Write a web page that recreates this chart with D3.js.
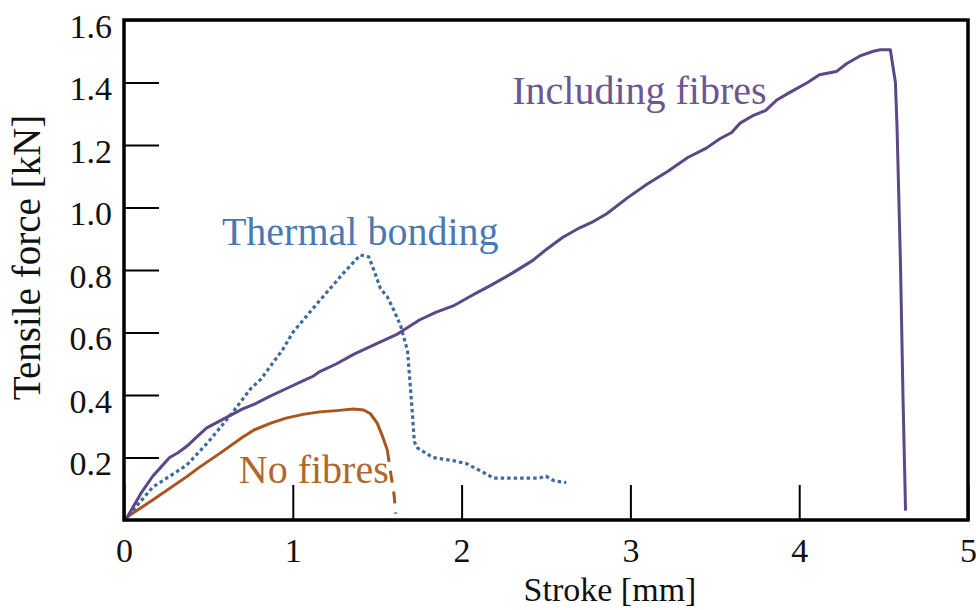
<!DOCTYPE html>
<html>
<head>
<meta charset="utf-8">
<script src="https://cdnjs.cloudflare.com/ajax/libs/d3/7.8.5/d3.min.js"></script>
<style>
    html, body { margin: 0; padding: 0; background: #fff; }
    svg { display: block; }
    svg text { font-family: 'Liberation Serif', 'Times New Roman', serif; }
</style>
</head>
<body>
<svg id="chart"></svg>
<script>
// stroke [mm], tensile force [kN]
var includingFibres = [
    [0, 0], [0.02, 0.01], [0.1, 0.085], [0.17, 0.14], [0.22, 0.17], [0.27, 0.2], [0.32, 0.215],
    [0.37, 0.235], [0.43, 0.265], [0.49, 0.295], [0.56, 0.315], [0.63, 0.335], [0.7, 0.355],
    [0.77, 0.37], [0.86, 0.395], [0.96, 0.42], [1.06, 0.445], [1.12, 0.46], [1.16, 0.475],
    [1.26, 0.5], [1.36, 0.53], [1.5, 0.565], [1.62, 0.595], [1.75, 0.64], [1.85, 0.665],
    [1.95, 0.685], [2.05, 0.715], [2.1, 0.73], [2.17, 0.75], [2.3, 0.79], [2.42, 0.83],
    [2.5, 0.865], [2.6, 0.905], [2.7, 0.935], [2.78, 0.955], [2.86, 0.98], [2.98, 1.03],
    [3.1, 1.075], [3.22, 1.115], [3.34, 1.16], [3.45, 1.19], [3.53, 1.22], [3.6, 1.24],
    [3.65, 1.27], [3.73, 1.295], [3.8, 1.31], [3.87, 1.345], [3.95, 1.37], [4.05, 1.4],
    [4.12, 1.425], [4.22, 1.435], [4.28, 1.46], [4.36, 1.485], [4.44, 1.5], [4.48, 1.505],
    [4.54, 1.505], [4.57, 1.4], [4.58, 1.25], [4.6, 0.82], [4.615, 0.39], [4.63, 0.03]
];

var thermalBonding = [
    [0, 0], [0.02, 0.01], [0.17, 0.105], [0.37, 0.175], [0.5, 0.25], [0.63, 0.335],
    [0.75, 0.42], [0.81, 0.45], [0.94, 0.545], [1.0, 0.6], [1.14, 0.69], [1.22, 0.74],
    [1.3, 0.79], [1.36, 0.825], [1.4, 0.848], [1.45, 0.842], [1.48, 0.8], [1.52, 0.74],
    [1.56, 0.714], [1.6, 0.67], [1.64, 0.62], [1.68, 0.54], [1.71, 0.33], [1.72, 0.25],
    [1.74, 0.23], [1.83, 0.2], [1.95, 0.19], [2.03, 0.18], [2.12, 0.155], [2.19, 0.134],
    [2.3, 0.134], [2.46, 0.134], [2.5, 0.14], [2.55, 0.125], [2.62, 0.12]
];

var noFibres = [
    [0, 0], [0.02, 0.01], [0.17, 0.064], [0.37, 0.138], [0.45, 0.17], [0.57, 0.214],
    [0.7, 0.264], [0.77, 0.288], [0.87, 0.31], [0.96, 0.326], [1.06, 0.338], [1.16, 0.346],
    [1.26, 0.35], [1.36, 0.355], [1.42, 0.352], [1.46, 0.34], [1.5, 0.31], [1.53, 0.27],
    [1.56, 0.224]
];

// broken (dashed) end of the no-fibre curve
var noFibresBreak = [[1.56, 0.224], [1.58, 0.15], [1.6, 0.08], [1.61, 0.02]];

var xTicks = [0, 1, 2, 3, 4, 5];
var yTicks = [0.2, 0.4, 0.6, 0.8, 1.0, 1.2, 1.4, 1.6];

var seriesLabels = [
    { text: 'Including fibres', x: 2.3, y: 1.33, color: '#6a5892' },
    { text: 'Thermal bonding', x: 0.58, y: 0.88, color: '#4a78b0' },
    { text: 'No fibres', x: 0.68, y: 0.12, color: '#b0682c' }
];

(function() {
    'use strict';

    var WIDTH = 976, HEIGHT = 610;
    var margin = { top: 20, right: 8, bottom: 90, left: 124 };
    var innerW = WIDTH - margin.left - margin.right;
    var innerH = HEIGHT - margin.top - margin.bottom;

    var svg = d3.select('#chart')
        .attr('width', WIDTH)
        .attr('height', HEIGHT);

    var g = svg.append('g')
        .attr('transform', 'translate(' + margin.left + ',' + margin.top + ')');

    var x = d3.scaleLinear().domain([0, 5]).range([0, innerW]);
    var y = d3.scaleLinear().domain([0, 1.6]).range([innerH, 0]);

    // ticks point inward, labels outside
    var yAxis = g.append('g')
        .call(d3.axisLeft(y).tickValues(yTicks).tickSize(-35).tickPadding(12).tickFormat(d3.format('.1f')));
    yAxis.attr('font-family', null);
    yAxis.select('.domain').remove();
    yAxis.selectAll('line').attr('stroke', '#000').attr('stroke-width', 2);
    yAxis.selectAll('text')
        .attr('fill', '#111')
        .attr('font-size', 34)
        .attr('dy', '0.5em');

    var xAxis = g.append('g')
        .attr('transform', 'translate(0,' + innerH + ')')
        .call(d3.axisBottom(x).tickValues(xTicks).tickSize(-35).tickPadding(18).tickFormat(d3.format('d')));
    xAxis.attr('font-family', null);
    xAxis.select('.domain').remove();
    xAxis.selectAll('line').attr('stroke', '#000').attr('stroke-width', 2);
    xAxis.selectAll('text')
        .attr('fill', '#111')
        .attr('font-size', 34);

    var line = d3.line()
        .x(d => x(d[0]))
        .y(d => y(d[1]));

    g.append('path')
        .datum(noFibres)
        .attr('d', line)
        .attr('fill', 'none')
        .attr('stroke', '#a8561b')
        .attr('stroke-width', 3)
        .attr('stroke-linejoin', 'round');

    g.append('path')
        .datum(noFibresBreak)
        .attr('d', line)
        .attr('fill', 'none')
        .attr('stroke', '#a8561b')
        .attr('stroke-width', 3)
        .attr('stroke-dasharray', '12,9');

    g.append('path')
        .datum(thermalBonding)
        .attr('d', line)
        .attr('fill', 'none')
        .attr('stroke', '#3d6b9e')
        .attr('stroke-width', 3.2)
        .attr('stroke-dasharray', '3.5,3');

    g.append('path')
        .datum(includingFibres)
        .attr('d', line)
        .attr('fill', 'none')
        .attr('stroke', '#5c4787')
        .attr('stroke-width', 3)
        .attr('stroke-linejoin', 'round');

    g.selectAll('.series-label')
        .data(seriesLabels)
        .enter()
        .append('text')
            .attr('class', 'series-label')
            .attr('x', d => x(d.x))
            .attr('y', d => y(d.y))
            .attr('fill', d => d.color)
            .attr('font-size', 40)
            .text(d => d.text);

    // frame
    g.append('rect')
        .attr('width', innerW)
        .attr('height', innerH)
        .attr('fill', 'none')
        .attr('stroke', '#000')
        .attr('stroke-width', 3.5);

    svg.append('text')
        .attr('x', 610)
        .attr('y', 601)
        .attr('text-anchor', 'middle')
        .attr('fill', '#111')
        .attr('font-size', 34)
        .text('Stroke [mm]');

    svg.append('text')
        .attr('transform', 'translate(40,' + (margin.top + y(0.84)) + ') rotate(-90)')
        .attr('text-anchor', 'middle')
        .attr('fill', '#111')
        .attr('font-size', 39)
        .text('Tensile force [kN]');
})();
</script>
</body>
</html>
